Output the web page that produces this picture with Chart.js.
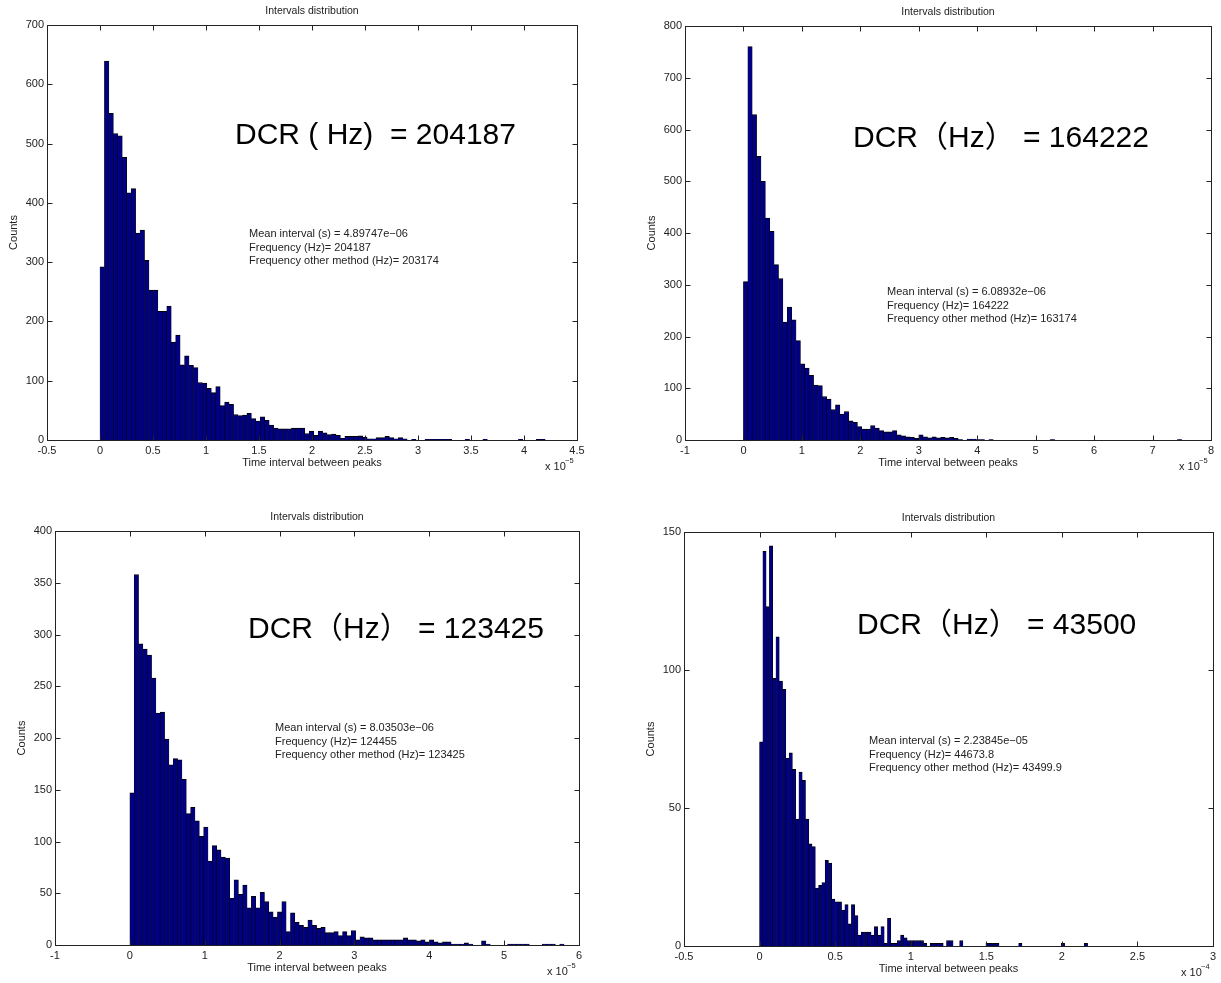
<!DOCTYPE html>
<html>
<head>
<meta charset="utf-8">
<title>Intervals distribution</title>
<script src="https://cdn.jsdelivr.net/npm/chart.js@4.4.0/dist/chart.umd.min.js"></script>
<style>
    html, body { margin: 0; padding: 0; background: #fff; }
    #wrap { position: relative; width: 1221px; height: 983px; overflow: hidden; }
    #wrap canvas { position: absolute; left: 0; top: 0; }
</style>
</head>
<body>
<div id="wrap">
    <canvas id="chart-a" width="1221" height="983"></canvas>
    <canvas id="chart-b" width="1221" height="983"></canvas>
    <canvas id="chart-c" width="1221" height="983"></canvas>
    <canvas id="chart-d" width="1221" height="983"></canvas>
</div>
<script>
// Bin counts (100 bins each)
const countsA = [
    292, 639, 551, 517, 513, 477, 417, 424, 349, 354,
    303, 253, 253, 217, 217, 226, 165, 177, 127, 142,
    126, 122, 97, 96, 87, 80, 90, 58, 64, 60,
    43, 41, 42, 45, 36, 32, 39, 33, 25, 20,
    19, 19, 19, 20, 20, 20, 11, 15, 8, 15,
    12, 9, 10, 8, 3, 6, 6, 6, 7, 5,
    2, 2, 4, 4, 6, 4, 2, 4, 2, 0,
    1, 0, 0, 1, 1, 1, 1, 1, 1, 0,
    0, 0, 1, 0, 0, 0, 1, 0, 0, 0,
    0, 0, 0, 0, 1, 0, 0, 0, 1, 1
];
const countsB = [
    306, 760, 629, 548, 500, 429, 403, 339, 312, 228,
    257, 232, 192, 147, 139, 125, 106, 105, 84, 79,
    59, 68, 50, 55, 37, 34, 26, 21, 21, 28,
    23, 18, 16, 16, 18, 10, 8, 6, 5, 3,
    10, 6, 4, 6, 4, 5, 4, 5, 3, 1,
    0, 2, 2, 1, 1, 0, 1, 0, 0, 0,
    0, 0, 0, 0, 0, 0, 0, 0, 0, 0,
    1, 0, 0, 0, 0, 0, 0, 0, 0, 0,
    0, 0, 0, 0, 0, 0, 0, 0, 0, 0,
    0, 0, 0, 0, 0, 0, 0, 0, 0, 1
];
const countsC = [
    147, 358, 291, 286, 280, 258, 224, 225, 199, 174,
    180, 179, 160, 127, 133, 120, 105, 114, 81, 96,
    92, 85, 84, 45, 63, 49, 58, 36, 47, 36,
    51, 42, 32, 27, 32, 42, 13, 31, 22, 19,
    17, 24, 19, 16, 17, 12, 12, 13, 9, 13,
    9, 14, 5, 8, 7, 7, 5, 5, 5, 5,
    5, 5, 5, 7, 5, 5, 4, 5, 3, 5,
    3, 2, 3, 3, 1, 1, 1, 2, 1, 0,
    0, 4, 1, 0, 0, 0, 0, 1, 1, 1,
    1, 1, 0, 0, 0, 1, 1, 1, 0, 1
];
const countsD = [
    74, 143, 123, 145, 97, 112, 96, 93, 68, 70,
    64, 46, 63, 60, 46, 37, 36, 21, 22, 23,
    31, 30, 17, 16, 16, 13, 15, 8, 15, 11,
    4, 5, 5, 5, 4, 7, 4, 7, 1, 10,
    1, 1, 2, 4, 3, 2, 2, 2, 2, 2,
    1, 0, 1, 1, 1, 1, 0, 2, 2, 0,
    0, 2, 0, 0, 0, 0, 0, 0, 0, 1,
    1, 1, 1, 0, 0, 0, 0, 0, 0, 1,
    0, 0, 0, 0, 0, 0, 0, 0, 0, 0,
    0, 0, 1, 0, 0, 0, 0, 0, 0, 1
];

// bin widths, in the units of each x axis (x 10^-5, x 10^-5, x 10^-5, x 10^-4)
const binWidths = [0.042, 0.075, 0.058, 0.0217];

// axis ranges and tick steps
const xMins = [-0.5, -1, -1, -0.5];
const xMaxs = [4.5, 8, 6, 3];
const xSteps = [0.5, 1, 1, 0.5];
const yMaxs = [700, 800, 400, 150];
const ySteps = [100, 100, 50, 50];
const exponents = ['\u22125', '\u22125', '\u22125', '\u22124'];

// texts
const dcrLabels = [
    'DCR ( Hz)  = 204187',
    'DCR\uFF08Hz\uFF09 = 164222',
    'DCR\uFF08Hz\uFF09 = 123425',
    'DCR\uFF08Hz\uFF09 = 43500'
];
const meanLines = ['4.89747e\u221206', '6.08932e\u221206', '8.03503e\u221206', '2.23845e\u221205'];
const freqLines = ['204187', '164222', '124455', '44673.8'];
const otherLines = ['203174', '163174', '123425', '43499.9'];

// page layout of each plot box, and where the texts sit
const plotBoxes = [
    { left: 47, top: 25, right: 577, bottom: 440 },
    { left: 685, top: 26, right: 1211, bottom: 440 },
    { left: 55, top: 531, right: 579, bottom: 945 },
    { left: 684, top: 532, right: 1213, bottom: 946 }
];
const dcrSpots = [[235, 144], [853, 147], [248, 638], [857, 634]];
const infoSpots = [[249, 237], [887, 295], [275, 731], [869, 744]];

const PAGE_W = 1221, PAGE_H = 983;
const FONT = '"Liberation Sans", Arial, "Noto Sans CJK SC", sans-serif';
const INK = '#222';

// MATLAB look: boxed axes with inward ticks on all sides, plus the text labels
const matlabFrame = {
    id: 'matlabFrame',
    afterDraw(chart, args, opts) {
        const { ctx, chartArea: a, scales } = chart;
        const L = Math.round(a.left) + 0.5, R = Math.round(a.right) + 0.5;
        const T = Math.round(a.top) + 0.5, B = Math.round(a.bottom) + 0.5;
        ctx.save();
        ctx.strokeStyle = INK;
        ctx.lineWidth = 1;
        ctx.strokeRect(L, T, R - L, B - T);

        ctx.beginPath();
        scales.x.ticks.forEach(t => {
            const px = Math.round(scales.x.getPixelForValue(t.value)) + 0.5;
            ctx.moveTo(px, B); ctx.lineTo(px, B - 5);
            ctx.moveTo(px, T); ctx.lineTo(px, T + 5);
        });
        scales.y.ticks.forEach(t => {
            const py = Math.round(scales.y.getPixelForValue(t.value)) + 0.5;
            ctx.moveTo(L, py); ctx.lineTo(L + 5, py);
            ctx.moveTo(R, py); ctx.lineTo(R - 5, py);
        });
        ctx.stroke();

        const cx = (a.left + a.right) / 2;
        ctx.fillStyle = INK;
        ctx.textBaseline = 'middle';
        ctx.textAlign = 'center';
        ctx.font = '10.5px ' + FONT;
        ctx.fillText('Intervals distribution', cx, a.top - 14);
        ctx.font = '11px ' + FONT;
        ctx.fillText('Time interval between peaks', cx, a.bottom + 23);

        ctx.save();
        ctx.translate(a.left - 33, (a.top + a.bottom) / 2);
        ctx.rotate(-Math.PI / 2);
        ctx.fillText('Counts', 0, 0);
        ctx.restore();

        // x 10^n under the right end of the axis
        ctx.textAlign = 'left';
        ctx.textBaseline = 'alphabetic';
        ctx.font = '11px ' + FONT;
        ctx.fillText('x 10', a.right - 32, a.bottom + 30);
        ctx.font = '7.5px ' + FONT;
        ctx.fillText(opts.exponent, a.right - 12, a.bottom + 23);

        // statistics block
        ctx.font = '11px ' + FONT;
        opts.info.forEach((line, i) => {
            ctx.fillText(line, opts.infoAt[0], opts.infoAt[1] + i * 13.5);
        });

        // big DCR label
        ctx.fillStyle = '#000';
        ctx.font = '30px ' + FONT;
        ctx.fillText(opts.dcr, opts.dcrAt[0], opts.dcrAt[1]);
        ctx.restore();
    }
};

// MATLAB style tick text: 1 not 1.0, 0.5 stays 0.5
const plainTick = v => String(parseFloat(Number(v).toFixed(3)));

function renderPanel(canvasId, counts, idx) {
    const box = plotBoxes[idx];
    const w = binWidths[idx];
    const points = counts.map((c, i) => ({ x: (i + 0.5) * w, y: c }));
    const tickFont = { family: FONT, size: 11 };

    return new Chart(document.getElementById(canvasId).getContext('2d'), {
        type: 'bar',
        data: {
            datasets: [{
                data: points,
                backgroundColor: '#000080',
                borderColor: '#000000',
                borderWidth: { top: 1, left: 0.5, right: 0.5, bottom: 0 },
                barPercentage: 1,
                categoryPercentage: 1,
                grouped: false
            }]
        },
        options: {
            responsive: false,
            animation: false,
            devicePixelRatio: 1,
            events: [],
            // the axis boxes take the whole left / bottom margin, so the plot box lands on box.*
            layout: {
                padding: { left: 0, top: box.top, right: PAGE_W - box.right, bottom: 0 }
            },
            plugins: {
                legend: { display: false },
                title: { display: false },
                tooltip: { enabled: false },
                matlabFrame: {
                    exponent: exponents[idx],
                    dcr: dcrLabels[idx],
                    dcrAt: dcrSpots[idx],
                    info: [
                        'Mean interval (s) = ' + meanLines[idx],
                        'Frequency (Hz)= ' + freqLines[idx],
                        'Frequency other method (Hz)= ' + otherLines[idx]
                    ],
                    infoAt: infoSpots[idx]
                }
            },
            scales: {
                x: {
                    type: 'linear',
                    min: xMins[idx],
                    max: xMaxs[idx],
                    offset: false,
                    grid: { display: false, drawTicks: false },
                    border: { display: false },
                    ticks: {
                        stepSize: xSteps[idx],
                        autoSkip: false,
                        maxRotation: 0,
                        padding: 4,
                        color: INK,
                        font: tickFont,
                        callback: plainTick
                    },
                    afterFit: s => { s.height = PAGE_H - box.bottom; }
                },
                y: {
                    min: 0,
                    max: yMaxs[idx],
                    grid: { display: false, drawTicks: false },
                    border: { display: false },
                    ticks: {
                        stepSize: ySteps[idx],
                        autoSkip: false,
                        padding: 3,
                        color: INK,
                        font: tickFont,
                        callback: plainTick
                    },
                    afterFit: s => { s.width = box.left; }
                }
            }
        },
        plugins: [matlabFrame]
    });
}

document.addEventListener('DOMContentLoaded', () => {
    renderPanel('chart-a', countsA, 0);
    renderPanel('chart-b', countsB, 1);
    renderPanel('chart-c', countsC, 2);
    renderPanel('chart-d', countsD, 3);
});
</script>
</body>
</html>
